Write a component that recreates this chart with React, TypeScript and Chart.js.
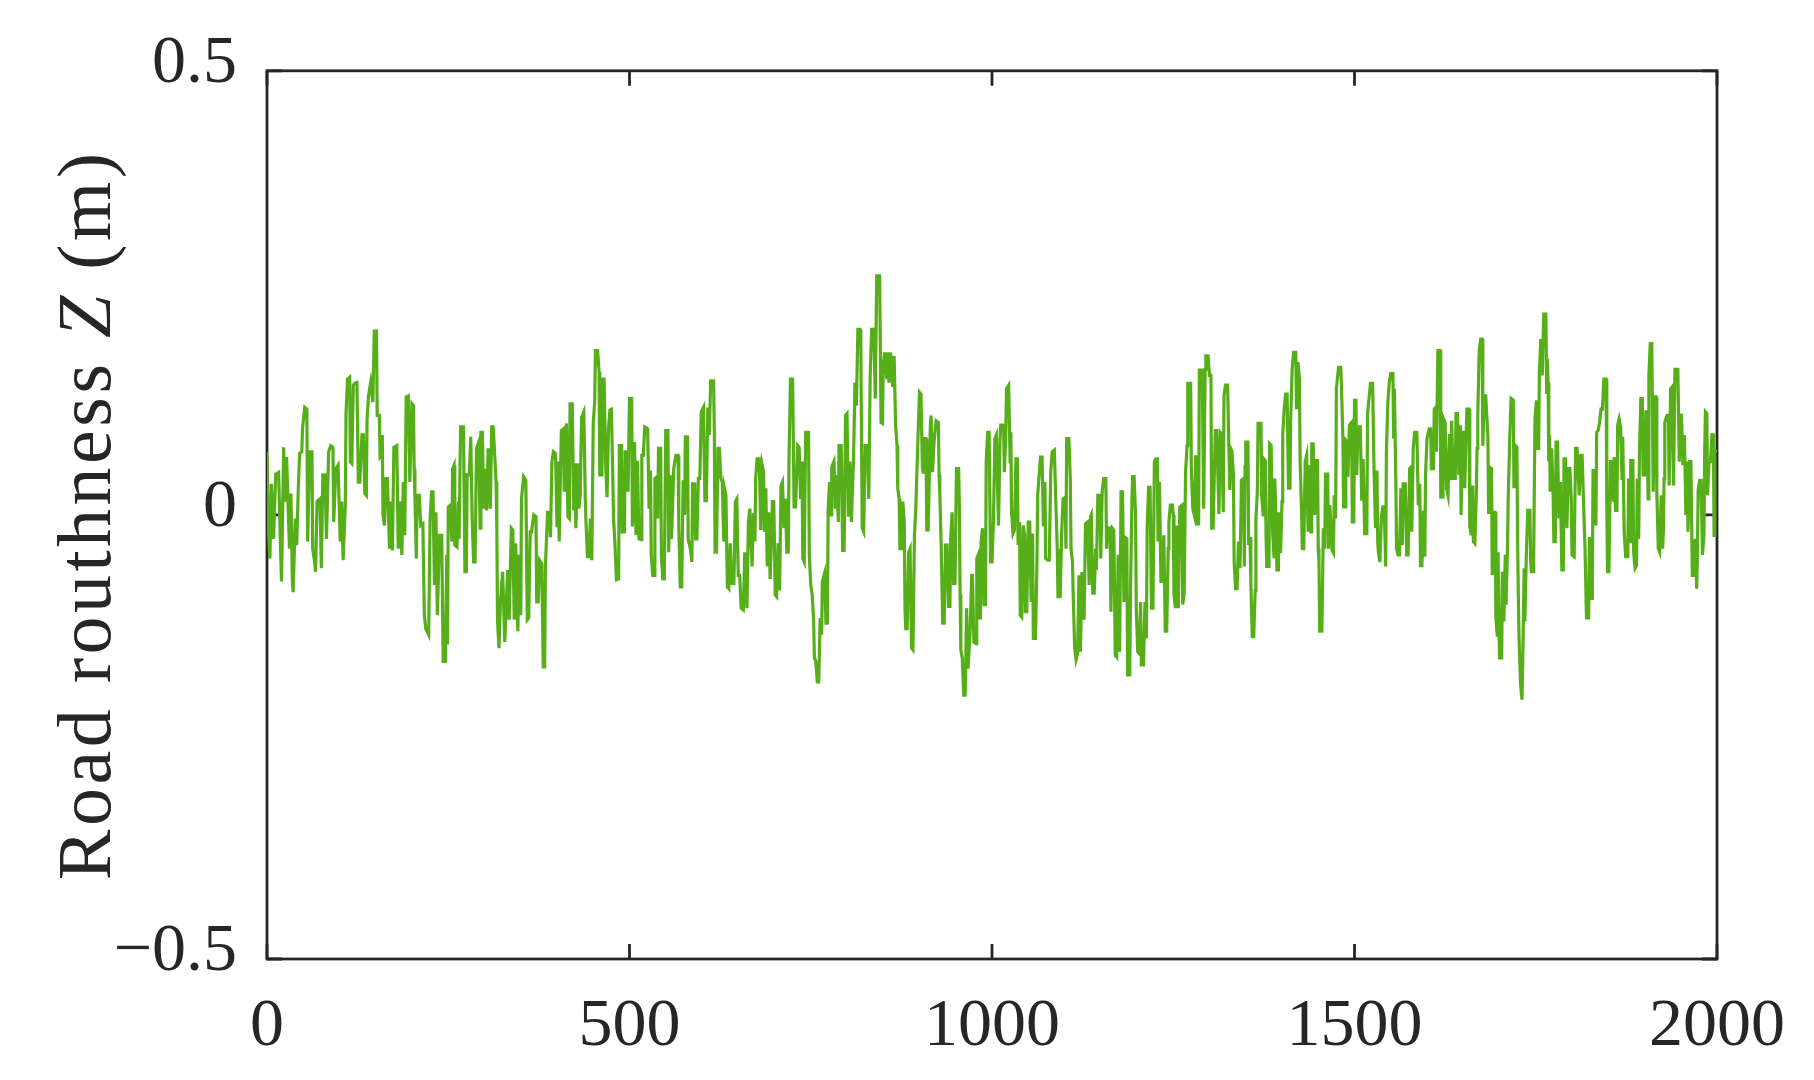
import { useEffect, useRef } from 'react';
import { Chart, registerables } from 'chart.js';

Chart.register(...registerables);

// ---- axis definitions ----
const X_TICKS = [0, 500, 1000, 1500, 2000];
const Y_TICKS = [-0.5, 0, 0.5];
const Y_TICK_LABELS = ['−0.5', '0', '0.5'];
const Y_TITLE_PARTS = ['Road routhness ', 'Z', ' (m)'];

// ---- road profile readings: [distance, Z (m)] ----
const segment1: [number, number][] = [
  [0,0.071],[2,-0.019],[4,-0.049],[6,0.035],[9,-0.027],[12,0.046],[16,0.048],[18,-0.015],[20,-0.075],[23,0.076],[25,0.015],[27,0.065],[31,-0.038],[33,0.024],[35,-0.075],[36,-0.087],[39,-0.004],[41,-0.034],[43,0.026],[45,0.069],[48,0.071],[49,0.097],[52,0.121],[55,0.119],[56,-0.030],[59,0.071],[62,0.071],[63,-0.038],[65,-0.049],[67,-0.064],[69,0.015],[73,0.018],[75,-0.060],[77,0.045],[80,0.045],[82,-0.027],[85,0.071],[88,0.078],[91,0.076],[92,-0.008],[95,0.052],[98,0.056],[101,-0.030],[103,0.015],[105,-0.051],[108,0.011],[109,0.114],[111,0.153],[114,0.155],[115,0.060],[117,0.058],[119,0.146],[121,0.148],[124,0.149],[126,0.037],[128,0.037],[131,0.090],[133,0.090],[135,0.024],[137,0.022],[138,0.108],[140,0.134],[143,0.149],[146,0.127],[148,0.207],[151,0.207],[152,0.112],[155,0.112],[156,0.065],[158,0.067],[159,0.090],[160,0.000],[162,-0.012],[164,0.041],[166,0.041],[169,-0.038],[171,0.015],[173,-0.040],[175,0.076],[179,0.078],[181,-0.038],[183,0.015],[186,-0.045],[188,0.037],[190,-0.023],[192,0.133],[195,0.134],[197,0.037],[200,0.125],[202,0.123],[203,0.052],[204,0.022],[206,-0.049],[207,0.022],[210,0.022],[212,-0.012],[215,-0.010],[217,-0.113],[219,-0.128],[223,-0.135],[225,-0.004],[227,0.026],[229,0.026],[231,-0.079],[233,0.003],[235,-0.113],[238,-0.023],[241,-0.023],[243,-0.165],[246,-0.165],[248,-0.045],[249,-0.146],[250,0.009],[253,0.011],[255,-0.030],[256,0.052],[258,0.056],[259,-0.034],[262,-0.036],[264,0.015],[265,-0.027],[267,0.099],[271,0.099],[273,-0.064],[275,-0.064],[276,0.045],[279,0.045],[281,0.088],[283,-0.004],[285,-0.053],[287,-0.053],[289,0.075],[292,0.082],[294,-0.015],[295,0.093],[297,0.093],[299,0.007],[301,0.052],[303,0.005],[305,0.075],[308,0.007],[310,0.099],[312,0.099],[316,0.037],[317,-0.015],[318,-0.120],[320,-0.150],[322,-0.098],[325,-0.064],[328,-0.143],
];

const segment2: [number, number][] = [
  [332,-0.062],[334,-0.118],[337,-0.015],[339,-0.017],[341,-0.118],[343,-0.032],[346,-0.131],[348,-0.045],[350,-0.113],[351,0.018],[354,0.043],[357,0.039],[359,-0.118],[361,-0.116],[363,-0.019],[365,-0.019],[368,0.000],[371,-0.002],[372,-0.098],[374,-0.098],[376,-0.051],[379,-0.055],[381,-0.171],[383,-0.171],[384,-0.058],[387,0.003],[389,0.003],[391,-0.025],[393,0.060],[395,0.071],[398,0.069],[400,-0.012],[401,0.060],[403,-0.030],[406,0.095],[409,0.097],[410,0.026],[413,0.103],[415,-0.002],[417,-0.004],[418,0.125],[421,0.125],[423,0.005],[425,0.058],[426,-0.015],[429,0.058],[430,0.007],[432,0.022],[434,0.110],[437,0.116],[439,0.018],[440,-0.008],[442,-0.047],[444,-0.047],[446,-0.004],[448,-0.051],[450,0.104],[452,0.127],[453,0.185],[456,0.185],[458,0.161],[459,0.045],[462,0.045],[463,0.153],[465,0.153],[467,0.060],[469,0.020],[471,0.097],[473,0.118],[475,0.119],[477,0.041],[478,-0.004],[480,-0.034],[482,-0.073],[485,-0.072],[486,0.078],[489,0.078],[490,-0.019],[493,-0.019],[494,0.071],[496,0.071],[498,0.026],[500,0.131],[503,0.131],[504,-0.013],[507,0.082],[509,-0.023],[511,0.061],[513,-0.027],[516,-0.028],[517,0.067],[519,0.067],[521,0.099],[525,0.097],[527,0.007],[529,0.050],[530,-0.045],[532,-0.068],[534,-0.068],[535,0.041],[538,0.043],[539,-0.004],[540,0.075],[543,0.075],[544,-0.047],[546,-0.072],[548,-0.072],[550,0.095],[553,0.095],[554,-0.042],[556,0.045],[558,-0.027],[561,0.052],[564,0.067],[567,0.067],[568,-0.012],[570,-0.081],[572,-0.081],[574,0.039],[576,0.000],[577,0.088],[580,0.088],[581,-0.028],[584,-0.038],[586,-0.053],[587,0.035],[590,0.035],[591,-0.027],[593,-0.027],[595,0.041],[597,0.041],[599,0.116],[602,0.121],[604,0.016],[606,0.016],[608,0.121],[610,0.090],[612,0.151],[616,0.151],[617,0.093],[618,-0.042],[620,-0.042],[622,0.075],[624,0.075],[626,0.041],[628,0.037],[630,-0.030],[631,0.030],[633,0.022],[635,-0.081],[637,-0.083],[639,-0.032],[641,-0.077],[644,-0.077],[646,0.015],[648,0.018],[650,-0.068],[652,-0.068],[654,-0.105],[657,-0.107],[659,-0.042],[662,-0.105],[664,-0.008],[666,0.007],[669,-0.058],[671,0.000],
];

const segment3: [number, number][] = [
  [672,0.000],[673,-0.030],[674,0.041],[676,0.063],[679,0.063],[681,-0.017],[683,0.056],[685,0.048],[686,-0.019],[688,0.030],[690,-0.058],[692,0.003],[694,-0.072],[696,-0.023],[697,0.015],[699,0.015],[701,-0.090],[703,-0.092],[705,-0.032],[707,-0.085],[709,0.033],[711,0.037],[713,-0.015],[715,0.018],[717,-0.042],[719,-0.042],[720,0.060],[722,0.153],[725,0.153],[727,0.009],[729,0.009],[732,0.078],[734,0.076],[736,0.018],[738,0.060],[739,-0.049],[741,-0.053],[743,0.093],[747,0.093],[748,-0.045],[750,-0.079],[752,-0.090],[754,-0.120],[755,-0.161],[757,-0.165],[759,-0.188],[761,-0.188],[763,-0.116],[765,-0.135],[766,-0.075],[769,-0.066],[771,-0.122],[773,-0.122],[774,0.007],[776,0.037],[778,0.000],[779,0.054],[782,0.060],[784,0.007],[786,0.045],[788,-0.008],[789,0.078],[792,0.078],[794,-0.040],[796,-0.040],[798,0.112],[800,0.114],[802,-0.002],[804,0.060],[806,-0.008],[809,0.063],[811,0.149],[813,0.123],[815,0.209],[818,0.209],[819,0.198],[821,-0.015],[823,-0.019],[825,0.078],[828,0.078],[830,0.018],[832,0.157],[834,0.209],[837,0.209],[839,0.131],[841,0.269],[845,0.269],[847,0.104],[849,0.103],[850,0.168],[852,0.183],[855,0.153],[856,0.183],[858,0.149],[860,0.183],[863,0.144],[865,0.179],[867,0.101],[869,0.078],[870,0.030],[872,0.018],[873,-0.038],[875,-0.038],[877,0.015],[879,-0.008],[880,-0.105],[881,-0.128],[883,-0.128],[885,-0.042],[887,-0.038],[889,-0.150],[891,-0.152],[893,-0.023],[895,0.009],[896,0.037],[898,0.090],[900,0.138],[902,0.136],[904,0.054],[905,0.048],[906,0.086],[909,0.086],[910,-0.017],[912,-0.017],[915,0.101],[916,0.112],[918,0.048],[920,0.082],[923,0.106],[926,0.104],[927,0.045],[928,0.026],[930,-0.038],[932,-0.122],[934,-0.122],[936,-0.034],[938,-0.034],[940,-0.103],[942,-0.103],[943,-0.027],[945,0.003],[947,-0.077],[949,-0.077],[951,0.052],[954,0.052],[955,0.007],[956,-0.090],[957,-0.152],[959,-0.161],[961,-0.203],[963,-0.203],[965,-0.105],[967,-0.173],[970,-0.128],[972,-0.068],[973,-0.068],[975,-0.143],[978,-0.145],[979,-0.049],[981,-0.045],[983,-0.116],[984,-0.116],[985,-0.030],[987,-0.015],[989,-0.101],[991,-0.101],[992,0.060],[994,0.093],[996,0.093],[998,-0.053],[1000,-0.053],[1002,-0.008],[1004,0.086],[1006,0.090],[1009,-0.012],
];

const segment4: [number, number][] = [
  [1011,0.084],[1012,0.101],[1016,0.101],[1017,0.048],[1019,0.090],[1020,0.142],[1023,0.146],[1025,0.060],[1026,0.093],[1027,0.003],[1029,-0.021],[1031,-0.017],[1033,0.063],[1035,0.063],[1036,-0.034],[1038,-0.008],[1039,-0.113],[1041,-0.115],[1043,-0.012],[1045,-0.023],[1046,-0.109],[1048,-0.109],[1050,-0.008],[1052,-0.008],[1054,-0.098],[1056,-0.021],[1057,-0.139],[1060,-0.139],[1062,-0.053],[1063,0.022],[1065,0.045],[1067,0.065],[1069,0.065],[1071,-0.013],[1073,0.037],[1074,-0.049],[1077,-0.051],[1079,-0.051],[1081,0.048],[1083,0.071],[1086,0.073],[1088,0.015],[1090,-0.038],[1091,-0.092],[1094,-0.092],[1096,-0.023],[1098,0.018],[1101,0.020],[1102,-0.038],[1103,0.086],[1106,0.086],[1108,0.041],[1109,-0.038],[1111,-0.053],[1112,-0.090],[1114,-0.150],[1116,-0.163],[1118,-0.156],[1120,-0.068],[1122,-0.154],[1124,-0.066],[1126,-0.066],[1127,-0.118],[1129,-0.010],[1132,-0.008],[1134,-0.079],[1136,-0.002],[1137,0.000],[1139,-0.088],[1141,-0.088],[1143,-0.038],[1144,-0.062],[1146,0.022],[1149,0.022],[1150,-0.049],[1152,0.026],[1154,0.041],[1157,0.041],[1158,-0.038],[1160,-0.015],[1163,-0.015],[1164,-0.109],[1166,-0.015],[1168,-0.017],[1170,-0.158],[1172,-0.160],[1174,-0.045],[1176,-0.154],[1178,0.026],[1180,0.026],[1182,-0.098],[1183,-0.025],[1186,-0.027],[1187,-0.180],[1190,-0.180],[1191,-0.087],[1193,0.015],[1194,0.043],[1196,0.043],[1198,0.000],[1199,-0.105],[1201,-0.154],[1203,-0.156],[1205,-0.098],[1206,-0.169],[1209,-0.169],[1211,-0.098],[1213,-0.139],[1214,-0.015],[1216,0.031],[1218,0.031],[1220,-0.105],[1222,-0.105],[1224,0.060],[1226,0.063],[1228,0.063],[1229,-0.030],[1231,0.037],[1233,-0.075],[1235,-0.075],[1237,-0.023],[1239,-0.131],[1241,-0.131],[1243,-0.038],[1244,-0.008],[1246,0.011],[1249,0.011],[1250,0.000],[1251,-0.090],[1253,-0.105],[1255,-0.012],[1257,-0.105],[1259,0.009],[1262,0.011],[1263,-0.101],[1265,-0.090],[1267,0.048],[1269,0.078],[1270,0.148],[1274,0.148],[1275,0.048],[1277,0.007],[1279,0.000],[1281,0.067],[1283,-0.010],[1285,-0.010],[1286,0.163],[1290,0.163],[1292,0.007],[1294,0.164],[1295,0.179],[1298,0.179],[1300,0.157],[1302,0.157],[1303,-0.015],[1305,-0.015],[1308,0.095],[1310,0.095],[1313,0.001],[1315,0.093],[1317,0.091],[1319,0.003],[1320,0.134],[1322,0.146],[1325,0.146],[1326,0.104],[1328,0.028],[1330,0.073],[1331,0.071],[1333,0.045],[1334,-0.053],[1336,-0.083],[1338,-0.083],[1340,-0.030],[1342,-0.060],[1343,-0.019],
];

const segment5: [number, number][] = [
  [1344,0.039],[1347,0.041],[1348,-0.058],[1349,0.054],[1350,0.082],[1353,0.082],[1354,-0.034],[1356,-0.025],[1357,-0.075],[1359,-0.137],[1361,-0.137],[1363,-0.085],[1364,-0.004],[1366,0.026],[1367,0.103],[1371,0.103],[1372,0.022],[1374,0.000],[1375,0.063],[1377,0.061],[1378,-0.023],[1379,-0.058],[1382,-0.058],[1383,0.080],[1385,0.078],[1387,-0.019],[1389,-0.047],[1390,0.041],[1392,-0.010],[1393,-0.062],[1395,-0.062],[1396,0.003],[1398,-0.043],[1400,0.015],[1401,0.090],[1403,0.119],[1405,0.136],[1407,0.136],[1409,0.030],[1411,0.030],[1412,0.108],[1414,0.164],[1416,0.183],[1419,0.183],[1420,0.119],[1422,0.172],[1424,0.153],[1425,0.060],[1427,0.005],[1428,-0.038],[1430,-0.038],[1432,0.060],[1434,0.067],[1436,-0.019],[1438,0.056],[1440,-0.019],[1441,0.080],[1443,0.080],[1445,0.000],[1446,0.061],[1449,0.061],[1450,-0.038],[1451,-0.053],[1452,-0.131],[1455,-0.131],[1457,-0.015],[1459,-0.038],[1460,0.046],[1463,0.046],[1464,-0.038],[1466,0.011],[1469,-0.040],[1471,-0.043],[1472,0.022],[1474,-0.004],[1475,0.142],[1478,0.166],[1481,0.166],[1482,0.146],[1484,0.086],[1485,0.009],[1487,0.009],[1488,0.084],[1490,0.082],[1491,0.043],[1493,0.101],[1496,0.104],[1497,-0.008],[1499,-0.008],[1500,0.129],[1502,0.129],[1503,0.045],[1505,0.099],[1508,0.099],[1510,0.016],[1512,0.063],[1514,-0.021],[1517,-0.021],[1518,0.114],[1520,0.131],[1522,0.148],[1525,0.148],[1527,0.048],[1529,-0.015],[1531,0.050],[1532,-0.030],[1533,-0.042],[1535,-0.053],[1537,-0.004],[1539,0.009],[1541,0.009],[1543,-0.058],[1544,0.071],[1546,0.127],[1548,0.149],[1550,0.159],[1553,0.159],[1554,0.086],[1555,0.142],[1557,0.041],[1558,-0.038],[1560,-0.045],[1562,-0.045],[1564,0.030],[1566,-0.034],[1567,0.035],[1570,0.035],[1572,-0.045],[1574,-0.045],[1576,0.052],[1578,0.054],[1579,-0.019],[1581,0.075],[1583,0.093],[1586,0.093],[1588,0.011],[1590,0.035],[1591,-0.057],[1593,-0.057],[1595,0.005],[1597,-0.047],[1598,0.045],[1600,0.086],[1603,0.097],[1605,0.097],[1606,0.052],[1609,0.052],[1610,0.119],[1612,0.121],[1613,0.071],[1615,0.185],[1618,0.185],[1619,0.020],[1622,0.020],[1623,0.108],[1625,0.104],[1627,0.030],[1629,0.022],[1631,0.091],[1633,0.039],[1634,0.106],[1636,0.041],[1639,0.041],[1640,0.114],[1642,0.114],[1644,0.045],[1646,0.101],[1647,0.000],[1649,0.093],[1651,0.093],[1652,0.030],[1655,0.119],[1658,0.119],[1659,-0.013],[1661,-0.023],[1663,0.033],[1664,-0.030],[1666,-0.032],[1668,0.022],[1669,0.075],[1670,0.112],[1672,0.185],[1674,0.198],[1676,0.198],[1677,0.078],[1679,0.134],[1681,0.134],
];

const segment6: [number, number][] = [
  [1684,0.088],[1685,0.001],[1686,0.054],[1689,0.052],[1690,-0.068],[1692,0.003],[1694,0.003],[1695,-0.116],[1697,-0.137],[1698,-0.042],[1700,-0.161],[1703,-0.161],[1704,-0.064],[1706,-0.120],[1708,-0.045],[1709,-0.101],[1711,-0.038],[1712,0.018],[1714,0.082],[1716,0.131],[1719,0.129],[1720,0.030],[1722,0.078],[1724,0.076],[1725,-0.030],[1726,-0.094],[1727,-0.139],[1729,-0.190],[1731,-0.208],[1732,-0.169],[1734,-0.060],[1735,-0.120],[1737,-0.045],[1739,0.005],[1742,0.005],[1743,-0.053],[1744,-0.064],[1747,-0.064],[1748,0.030],[1749,0.110],[1751,0.129],[1753,0.075],[1754,0.075],[1755,0.159],[1757,0.198],[1759,0.157],[1761,0.226],[1764,0.226],[1765,0.136],[1766,0.176],[1767,0.149],[1768,0.060],[1769,0.090],[1770,0.026],[1772,0.075],[1774,0.022],[1775,-0.030],[1777,-0.030],[1778,0.082],[1780,0.082],[1782,-0.004],[1784,0.037],[1786,-0.062],[1788,-0.062],[1789,0.063],[1791,0.063],[1793,-0.015],[1795,0.052],[1797,0.052],[1799,0.018],[1800,-0.045],[1803,-0.047],[1805,0.075],[1807,0.075],[1810,0.022],[1812,0.067],[1814,0.067],[1816,0.011],[1818,-0.038],[1820,-0.116],[1823,-0.116],[1824,-0.025],[1826,-0.094],[1828,-0.094],[1829,0.050],[1832,0.050],[1833,-0.012],[1834,0.093],[1836,0.095],[1838,0.104],[1840,0.119],[1842,0.119],[1844,0.153],[1847,0.153],[1848,0.015],[1849,-0.064],[1851,-0.064],[1853,0.060],[1855,0.060],[1857,0.015],[1858,0.065],[1860,0.005],[1862,0.005],[1863,0.101],[1865,0.108],[1867,0.099],[1869,0.041],[1870,0.088],[1872,-0.019],[1874,-0.047],[1877,-0.047],[1878,0.041],[1880,-0.030],[1881,0.061],[1884,0.061],[1885,-0.042],[1887,-0.060],[1889,-0.057],[1890,0.041],[1892,-0.027],[1893,0.067],[1895,0.131],[1897,0.131],[1898,0.045],[1900,0.045],[1902,0.116],[1903,0.116],[1905,0.018],[1906,0.157],[1908,0.193],[1910,0.193],[1912,0.026],[1914,0.133],[1916,0.133],[1917,0.026],[1919,-0.038],[1921,-0.042],[1923,0.022],[1925,-0.038],[1926,-0.019],[1927,0.041],[1928,0.104],[1931,0.112],[1933,0.112],[1934,0.033],[1936,0.142],[1938,0.144],[1940,0.033],[1942,0.164],[1946,0.164],[1948,0.060],[1949,0.112],[1951,0.112],[1953,0.056],[1955,0.090],[1956,0.052],[1957,0.000],[1959,0.060],[1960,-0.019],[1962,0.060],[1964,0.060],[1966,-0.068],[1968,-0.068],[1970,-0.027],[1972,-0.083],[1973,-0.045],[1974,0.028],[1976,0.039],[1978,0.039],[1980,-0.045],[1982,-0.023],[1983,0.071],[1984,0.116],[1986,0.114],[1987,0.022],[1989,0.060],[1991,0.060],[1993,0.090],[1995,0.090],[1996,-0.023],[1997,0.073],[2000,0.071],
];

// ---- styling ----
const LINE_COLOR = '#56AE18';
const AXIS_COLOR = '#262626';
const SERIF = "'Liberation Serif', 'Times New Roman', serif";
const TICK_FONT_SIZE = 68;
const TITLE_FONT_SIZE = 76;
const TICK_LEN = 15;

const framePlugin = {
  id: 'matlabFrame',
  beforeDatasetsDraw(chart: any) {
    const { ctx, chartArea: a, scales } = chart;
    ctx.save();
    ctx.strokeStyle = AXIS_COLOR;
    ctx.lineWidth = 2.8;
    ctx.lineCap = 'butt';
    ctx.strokeRect(a.left, a.top, a.right - a.left, a.bottom - a.top);
    ctx.beginPath();
    for (const v of X_TICKS) {
      const px = scales.x.getPixelForValue(v);
      ctx.moveTo(px, a.bottom);
      ctx.lineTo(px, a.bottom - TICK_LEN);
      ctx.moveTo(px, a.top);
      ctx.lineTo(px, a.top + TICK_LEN);
    }
    for (const v of Y_TICKS) {
      const py = scales.y.getPixelForValue(v);
      ctx.moveTo(a.left, py);
      ctx.lineTo(a.left + TICK_LEN, py);
      ctx.moveTo(a.right, py);
      ctx.lineTo(a.right - TICK_LEN, py);
    }
    ctx.stroke();
    ctx.restore();
  },
};

const yTitlePlugin = {
  id: 'yTitleMixed',
  afterDraw(chart: any) {
    const { ctx, chartArea: a } = chart;
    ctx.save();
    ctx.fillStyle = AXIS_COLOR;
    (ctx as any).letterSpacing = '3.5px';
    const fonts = [
      `${TITLE_FONT_SIZE}px ${SERIF}`,
      `italic ${TITLE_FONT_SIZE}px ${SERIF}`,
      `${TITLE_FONT_SIZE}px ${SERIF}`,
    ];
    const widths = Y_TITLE_PARTS.map((t, i) => {
      ctx.font = fonts[i];
      return ctx.measureText(t).width;
    });
    const total = widths.reduce((s, w) => s + w, 0);
    ctx.translate(110, (a.top + a.bottom) / 2);
    ctx.rotate(-Math.PI / 2);
    ctx.textBaseline = 'alphabetic';
    ctx.textAlign = 'left';
    let x = -total / 2;
    Y_TITLE_PARTS.forEach((t, i) => {
      ctx.font = fonts[i];
      ctx.fillText(t, x, 0);
      x += widths[i];
    });
    ctx.restore();
  },
};

export default function App() {
  const canvasRef = useRef<HTMLCanvasElement>(null);

  useEffect(() => {
    document.body.style.margin = '0';
    const points = [...segment1, ...segment2, ...segment3, ...segment4, ...segment5, ...segment6].map(
      ([x, y]) => ({ x, y })
    );
    const chart = new Chart(canvasRef.current!, {
      type: 'line',
      data: {
        datasets: [
          {
            data: points,
            borderColor: LINE_COLOR,
            borderWidth: 3.2,
            pointRadius: 0,
            tension: 0,
            fill: false,
          },
        ],
      },
      options: {
        animation: false,
        responsive: false,
        devicePixelRatio: 1,
        layout: { padding: { top: 69, right: 97, left: 0, bottom: 0 } },
        plugins: { legend: { display: false }, tooltip: { enabled: false } },
        scales: {
          x: {
            type: 'linear',
            min: 0,
            max: 2000,
            afterBuildTicks: (s: any) => {
              s.ticks = X_TICKS.map((v) => ({ value: v }));
            },
            afterFit: (s: any) => {
              s.height = 121;
            },
            grid: { display: false, drawTicks: false },
            border: { display: false },
            ticks: {
              font: { family: SERIF, size: TICK_FONT_SIZE },
              color: AXIS_COLOR,
              padding: 27,
              maxRotation: 0,
              autoSkip: false,
              callback: (v: any) => String(v),
            },
          },
          y: {
            type: 'linear',
            min: -0.5,
            max: 0.5,
            afterBuildTicks: (s: any) => {
              s.ticks = Y_TICKS.map((v) => ({ value: v }));
            },
            afterFit: (s: any) => {
              s.width = 267;
            },
            grid: { display: false, drawTicks: false },
            border: { display: false },
            ticks: {
              font: { family: SERIF, size: TICK_FONT_SIZE },
              color: AXIS_COLOR,
              padding: 30,
              labelOffset: -7,
              autoSkip: false,
              callback: (v: any) => {
                const i = Y_TICKS.findIndex((t) => Math.abs(t - Number(v)) < 1e-9);
                return i >= 0 ? Y_TICK_LABELS[i] : '';
              },
            },
          },
        },
      },
      plugins: [framePlugin, yTitlePlugin],
    });
    return () => chart.destroy();
  }, []);

  return <canvas ref={canvasRef} width={1814} height={1080} style={{ display: 'block' }} />;
}
